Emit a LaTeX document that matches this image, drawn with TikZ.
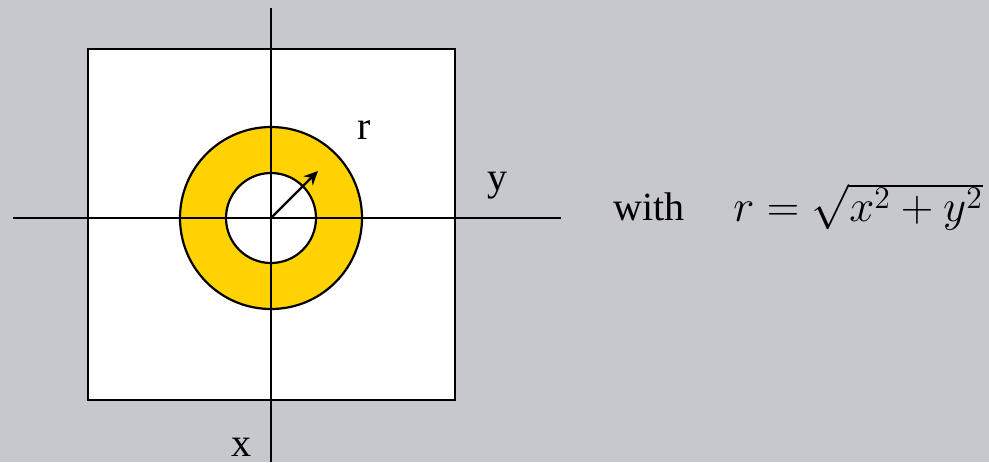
\RequirePackage{fix-cm}
\documentclass[tikz,border=0pt]{standalone}
\usepackage{fontspec}
\setmainfont{Liberation Serif}
\usepackage{tikz}
\usetikzlibrary{positioning, arrows.meta, calc}

\definecolor{bggray}{RGB}{199,200,205}
\definecolor{ringgold}{RGB}{255,210,0}

\begin{document}
\begin{tikzpicture}[
    x=0.5pt, y=-0.5pt,
    axis/.style={draw=black, line width=1.1pt},
    ring/.style={draw=black, line width=1.1pt},
    label/.style={inner sep=0pt, anchor=base, font=\fontsize{20}{24}\selectfont},
    arrow/.style={-{Stealth[length=7pt, width=6.5pt]}, draw=black, line width=1.1pt}
]

    % Background
    \fill [bggray] (0,0) rectangle (989,462);
    \useasboundingbox (0,0) rectangle (989,462);

    % Image square
    \draw [line width=1.1pt, fill=white] (88,49) rectangle (455,400);

    % Ring around the origin
    \coordinate (o) at (271,218);
    \fill [ringgold] (o) circle [radius=91];
    \fill [white] (o) circle [radius=45];
    \draw [ring] (o) circle [radius=91];
    \draw [ring] (o) circle [radius=45];

    % Axes
    \coordinate (ytail) at (13,218);
    \coordinate (yhead) at (561,218);
    \coordinate (xtop) at (271,8);
    \coordinate (xbot) at (271,462);
    \draw [axis] (ytail) -- (yhead);
    \draw [axis] (xtop) -- (xbot);

    % Radius arrow
    \coordinate (rtip) at (318,171);
    \draw [arrow] (o) -- (rtip);

    % Labels
    \node (rlab) at (364,139) [label] {r};
    \node (ylab) at (497,190) [label] {y};
    \node (xlab) at (241,456) [label] {x};
    \node (with) at (649,220) [label] {with};
    \node (formula) at (858,221) [label, font=\fontsize{22.5}{27}\selectfont] {$r=\sqrt{x^2+y^2}$};

\end{tikzpicture}
\end{document}
